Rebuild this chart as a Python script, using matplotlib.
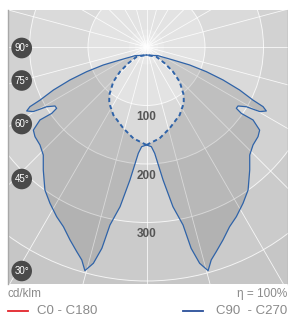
import matplotlib
matplotlib.use("Agg")
import matplotlib.pyplot as plt
import numpy as np
from matplotlib.lines import Line2D
from matplotlib.patches import Circle

plt.rcParams["font.family"] = ["Liberation Sans", "DejaVu Sans"]

# --- data, gamma in degrees from nadir, intensity in cd/klm
# C90 - C270, solid outline (one half, mirrored for the other side)
c90_gamma = [0.0, 52.9, 63.9, 67.4, 67.6, 66.7, 65.2, 63.5, 62.9, 61.9, 60.3, 59.1, 57.2,
             55.7, 55.0, 55.6, 53.7, 51.2, 47.4, 43.7, 40.0, 35.4, 31.7, 27.9, 24.8, 21.6,
             18.8, 16.9, 15.4, 13.8, 12.5, 11.6, 9.4, 7.1, 4.4, 2.8, 0.0]
c90_int = [13.7, 24.6, 50.4, 80.0, 110.6, 142.4, 175.4, 203.3, 223.8, 232.2, 222.9, 198.8,
           186.1, 185.9, 197.8, 220.7, 240.0, 244.6, 247.4, 255.4, 274.5, 299.8, 314.0,
           328.2, 338.5, 354.9, 369.7, 380.5, 396.6, 380.7, 352.5, 310.6, 276.7, 229.1,
           182.2, 170.6, 167.5]
# inner dashed loop
c0_gamma = [0.0, 8.2, 15.9, 26.0, 33.5, 37.8, 43.7, 47.0, 48.2, 45.3, 0.0]
c0_int = [167.5, 157.7, 144.5, 129.3, 115.3, 103.8, 82.1, 61.9, 41.8, 23.6, 13.7]

ring_values = [100, 200, 300, 400]
ring_labels = ["100", "200", "300"]
angle_labels = ["90°", "75°", "60°", "45°", "30°"]
efficiency = "η = 100%"
unit = "cd/klm"

# --- figure / geometry
W, H = 288, 323
fig = plt.figure(figsize=(W / 100, H / 100), dpi=100)
px = 0.585  # pixels per cd/klm
cx, cy = 146.5, 47.0
x0, x1, y0, y1 = 8.0, 288.0, 10.0, 283.5
ax = fig.add_axes([x0 / W, 1 - y1 / H, (x1 - x0) / W, (y1 - y0) / H])
ax.set_xlim((x0 - cx) / px, (x1 - cx) / px)
ax.set_ylim(-(y1 - cy) / px, (cy - y0) / px)
ax.set_facecolor("#c6c6c6")
ax.set_xticks([])
ax.set_yticks([])
for s in ["top", "bottom"]:
    ax.spines[s].set_visible(False)
for s in ["left", "right"]:
    ax.spines[s].set_color("#a8a8a8")
    ax.spines[s].set_linewidth(1.0)

# background bands
band_cols = ["#cbcbcb", "#d2d2d2", "#dadada", "#e3e3e3"]
for r, c in zip(ring_values[::-1], band_cols):
    ax.add_patch(Circle((0, 0), r, facecolor=c, edgecolor="none", zorder=0))
for r in ring_values:
    ax.add_patch(Circle((0, 0), r, facecolor="none", edgecolor="white", lw=0.7,
                        alpha=0.8, zorder=1))
# glow at centre
for rr, a in zip([30, 20, 12, 6], [0.15, 0.2, 0.3, 0.5]):
    ax.add_patch(Circle((0, 0), rr, facecolor="white", edgecolor="none", alpha=a, zorder=1))
# radial lines every 15 deg
for a in np.arange(0, 360, 15):
    t = np.radians(a)
    ax.plot([0, 800 * np.sin(t)], [0, -800 * np.cos(t)], color="white", lw=0.6,
            alpha=0.85, zorder=1)


def to_xy(g, i, side=1):
    g = np.radians(np.asarray(g))
    i = np.asarray(i)
    return -side * i * np.sin(g), -i * np.cos(g)


blue = "#2f63a8"
for side in (1, -1):
    sx, sy = to_xy(c90_gamma, c90_int, side)
    dx, dy = to_xy(c0_gamma, c0_int, side)
    # region between the solid outline and the dashed loop
    ax.fill(np.r_[sx, dx], np.r_[sy, dy], color="black", alpha=0.12, lw=0, zorder=2)
    ax.plot(sx, sy, color=blue, lw=0.9, zorder=3, solid_joinstyle="round")
    ax.plot(dx, dy, color=blue, lw=1.4, ls=(0, (2.2, 1.6)), zorder=3)

# ring labels
for v, lab in zip(ring_values, ring_labels):
    ax.text(0, -(v + 20), lab, ha="center", va="center", fontsize=8.5,
            fontweight="bold", color="#555555", zorder=5)

# angle badges on the left
lab_x = (21.7 - cx) / px
lab_py = [48, 80.5, 124, 179, 271]
for lab, py in zip(angle_labels, lab_py):
    ax.text(lab_x, -(py - cy) / px, lab, ha="center", va="center", fontsize=7,
            color="white", zorder=6,
            bbox=dict(boxstyle="circle,pad=0.3", fc="#4a4a4a", ec="none"))

# footer
grey = "#8a8a8a"
fig.text(8 / W, 1 - 294 / H, unit, ha="left", va="center", fontsize=8.5, color=grey)
fig.text(287 / W, 1 - 294 / H, efficiency, ha="right", va="center", fontsize=8.5, color=grey)
ly = 1 - 311 / H
fig.add_artist(Line2D([8 / W, 28 / W], [ly, ly], color="#e3242b", lw=1.3))
fig.text(37 / W, ly, "C0 - C180", ha="left", va="center", fontsize=9.5, color=grey)
fig.add_artist(Line2D([183 / W, 203 / W], [ly, ly], color="#2a4f9a", lw=1.3))
fig.text(287 / W, ly, "C90  - C270", ha="right", va="center", fontsize=9.5, color=grey)

fig.savefig("out.png", dpi=100)
